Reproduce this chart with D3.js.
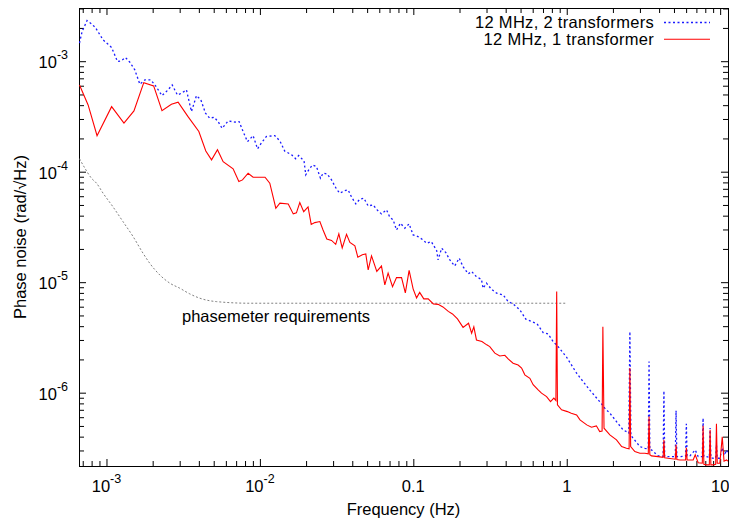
<!DOCTYPE html>
<html><head><meta charset="utf-8">
<script src="https://cdn.jsdelivr.net/npm/d3@7"></script>
<style>
body{margin:0;background:#fff}
text{font-family:"Liberation Sans",Arial,Helvetica,sans-serif;fill:#000}
</style>
</head><body>
<svg id="chart" width="729" height="521"></svg>
<script>
// ---- data ----
const seriesNames = ["12 MHz, 2 transformers", "12 MHz, 1 transformer"];
const requirementLabel = "phasemeter requirements";
const xTitle = "Frequency (Hz)";
const yTitle = "Phase noise (rad/\u221AHz)";
const xTickValues = [1e-3, 1e-2, 0.1, 1, 10];
const xTickLabels = [["10", "-3"], ["10", "-2"], ["0.1", ""], ["1", ""], ["10", ""]];
const yTickValues = [1e-3, 1e-4, 1e-5, 1e-6];
const yTickLabels = [["10", "-3"], ["10", "-4"], ["10", "-5"], ["10", "-6"]];

// [frequency Hz, phase noise rad/sqrt(Hz)]
const twoTransformers = [
[6.67e-4,1.46e-3],[6.93e-4,1.85e-3],[7.47e-4,2.33e-3],[7.98e-4,2.18e-3],[8.48e-4,2.01e-3],[9.50e-4,1.56e-3],[1.02e-3,1.43e-3],[1.08e-3,1.33e-3],[1.18e-3,9.92e-4],[1.25e-3,1.01e-3],[1.33e-3,1.08e-3],[1.42e-3,9.79e-4],[1.53e-3,8.34e-4],[1.65e-3,6.19e-4],[1.78e-3,6.78e-4],[1.94e-3,6.78e-4],[2.07e-3,6.10e-4],[2.30e-3,4.88e-4],[2.52e-3,5.50e-4],[2.68e-3,6.10e-4],[2.90e-3,4.95e-4],[3.08e-3,5.13e-4],[3.32e-3,5.50e-4],[3.58e-3,3.50e-4],[3.86e-3,4.88e-4],[4.12e-3,4.47e-4],[4.42e-3,3.38e-4],[4.71e-3,3.05e-4],[5.03e-3,3.11e-4],[5.34e-3,2.84e-4],[5.67e-3,2.47e-4],[6.21e-3,2.88e-4],[6.86e-3,2.81e-4],[7.32e-3,2.84e-4],[7.77e-3,2.31e-4],[8.30e-3,1.87e-4],[9.03e-3,2.12e-4],[9.65e-3,1.61e-4],[1.02e-2,1.81e-4],[1.10e-2,2.08e-4],[1.25e-2,2.12e-4],[1.35e-2,1.90e-4],[1.45e-2,1.54e-4],[1.61e-2,1.42e-4],[1.71e-2,1.31e-4],[1.79e-2,1.40e-4],[1.94e-2,1.25e-4],[1.99e-2,9.36e-5],[2.09e-2,1.05e-4],[2.20e-2,1.15e-4],[2.34e-2,1.11e-4],[2.48e-2,8.73e-5],[2.58e-2,9.69e-5],[2.74e-2,9.55e-5],[2.93e-2,8.43e-5],[3.16e-2,6.94e-5],[3.32e-2,6.39e-5],[3.58e-2,6.74e-5],[3.76e-2,6.84e-5],[3.96e-2,5.88e-5],[4.22e-2,5.11e-5],[4.48e-2,5.64e-5],[4.76e-2,5.75e-5],[5.08e-2,4.90e-5],[5.47e-2,5.01e-5],[5.81e-2,4.51e-5],[6.20e-2,4.15e-5],[6.69e-2,4.51e-5],[7.03e-2,3.87e-5],[7.39e-2,3.66e-5],[7.77e-2,2.97e-5],[8.25e-2,3.42e-5],[8.80e-2,3.08e-5],[9.39e-2,3.37e-5],[9.97e-2,2.68e-5],[0.107,2.59e-5],[0.116,2.41e-5],[0.122,2.25e-5],[0.131,2.33e-5],[0.142,1.93e-5],[0.145,1.59e-5],[0.153,2.03e-5],[0.163,1.85e-5],[0.173,1.59e-5],[0.186,1.40e-5],[0.199,1.65e-5],[0.211,1.38e-5],[0.228,1.19e-5],[0.240,1.25e-5],[0.258,1.12e-5],[0.278,1.06e-5],[0.285,8.82e-6],[0.300,9.79e-6],[0.323,8.64e-6],[0.349,7.95e-6],[0.385,7.67e-6],[0.415,6.67e-6],[0.447,6.36e-6],[0.495,5.62e-6],[0.541,4.63e-6],[0.590,4.40e-6],[0.641,4.19e-6],[0.702,3.50e-6],[0.757,3.40e-6],[0.815,2.90e-6],[0.879,2.61e-6],[0.997,2.10e-6],[1.16,1.50e-6],[1.41,1.06e-6],[1.64,8.31e-7],[1.77,7.24e-7],[1.91,6.52e-7],[2.11,5.48e-7],[2.33,4.61e-7],[2.45,4.44e-7],[2.54,4.30e-7],[2.58,3.57e-6],[2.62,4.10e-7],[2.71,3.87e-7],[3.00,3.25e-7],[3.23,3.14e-7],[3.40,3.10e-7],[3.44,1.91e-6],[3.48,3.05e-7],[3.57,3.03e-7],[3.94,2.68e-7],[4.25,2.66e-7],[4.30,1.04e-6],[4.35,2.65e-7],[4.47,2.64e-7],[5.10,2.64e-7],[5.16,6.88e-7],[5.22,2.64e-7],[5.46,2.64e-7],[5.95,2.66e-7],[6.02,5.22e-7],[6.09,2.68e-7],[6.35,2.68e-7],[6.88,3.03e-7],[7.19,2.64e-7],[7.65,2.64e-7],[7.74,5.88e-7],[7.83,2.64e-7],[8.07,2.64e-7],[8.50,2.60e-7],[8.60,4.80e-7],[8.70,2.58e-7],[9.00,2.55e-7],[9.35,2.55e-7],[9.46,3.37e-7],[9.57,2.55e-7],[9.95,2.55e-7],[10.32,3.17e-7],[10.6,2.70e-7],[11.0,3.03e-7],[11.25,2.80e-7]
];
const oneTransformer = [
[6.67e-4,6.10e-4],[7.59e-4,4.02e-4],[8.68e-4,2.12e-4],[1.08e-3,3.88e-4],[1.30e-3,2.75e-4],[1.51e-3,3.55e-4],[1.75e-3,6.40e-4],[2.03e-3,5.98e-4],[2.30e-3,3.57e-4],[2.65e-3,4.08e-4],[2.93e-3,4.26e-4],[3.40e-3,3.15e-4],[4.00e-3,2.31e-4],[4.44e-3,1.54e-4],[4.84e-3,1.28e-4],[5.29e-3,1.58e-4],[5.76e-3,1.23e-4],[6.69e-3,1.06e-4],[7.29e-3,8.14e-5],[7.70e-3,8.43e-5],[8.38e-3,9.69e-5],[9.03e-3,8.91e-5],[1.08e-2,8.91e-5],[1.16e-2,7.87e-5],[1.27e-2,4.67e-5],[1.35e-2,5.19e-5],[1.53e-2,5.11e-5],[1.65e-2,4.15e-5],[1.73e-2,4.24e-5],[1.82e-2,5.25e-5],[1.93e-2,4.35e-5],[2.06e-2,4.80e-5],[2.16e-2,3.33e-5],[2.28e-2,3.46e-5],[2.46e-2,3.54e-5],[2.58e-2,2.97e-5],[2.73e-2,2.46e-5],[2.93e-2,2.39e-5],[3.12e-2,2.20e-5],[3.27e-2,2.74e-5],[3.44e-2,2.04e-5],[3.67e-2,2.71e-5],[3.86e-2,2.29e-5],[4.16e-2,2.13e-5],[4.35e-2,1.68e-5],[4.65e-2,1.77e-5],[4.90e-2,1.80e-5],[5.08e-2,1.29e-5],[5.34e-2,1.73e-5],[5.78e-2,1.25e-5],[6.20e-2,1.40e-5],[6.52e-2,9.45e-6],[6.85e-2,1.21e-5],[7.32e-2,9.12e-6],[7.77e-2,1.10e-5],[8.38e-2,1.10e-5],[8.87e-2,8.00e-6],[9.39e-2,1.28e-5],[9.97e-2,8.70e-6],[0.105,7.21e-6],[0.110,8.09e-6],[0.117,7.06e-6],[0.125,7.06e-6],[0.135,6.36e-6],[0.145,6.30e-6],[0.156,5.97e-6],[0.169,5.44e-6],[0.180,5.16e-6],[0.194,4.65e-6],[0.211,3.90e-6],[0.229,4.25e-6],[0.240,3.45e-6],[0.248,3.94e-6],[0.258,3.00e-6],[0.280,2.90e-6],[0.301,2.71e-6],[0.315,2.61e-6],[0.340,2.28e-6],[0.366,2.15e-6],[0.395,2.18e-6],[0.415,2.02e-6],[0.447,1.85e-6],[0.482,1.78e-6],[0.508,1.67e-6],[0.533,1.45e-6],[0.575,1.35e-6],[0.604,1.18e-6],[0.651,1.06e-6],[0.685,9.90e-7],[0.739,9.22e-7],[0.784,8.31e-7],[0.824,8.92e-7],[0.850,8.50e-7],[0.860,8.22e-6],[0.870,7.76e-7],[0.925,6.99e-7],[1.01,6.74e-7],[1.07,6.52e-7],[1.16,6.30e-7],[1.22,5.67e-7],[1.35,5.11e-7],[1.45,4.87e-7],[1.56,5.01e-7],[1.64,4.44e-7],[1.70,4.50e-7],[1.72,3.96e-6],[1.75,4.77e-7],[1.91,4.15e-7],[2.11,3.74e-7],[2.28,3.25e-7],[2.45,3.14e-7],[2.55,3.10e-7],[2.58,1.67e-6],[2.61,3.25e-7],[2.78,2.93e-7],[3.00,2.83e-7],[3.23,2.83e-7],[3.40,2.80e-7],[3.44,6.08e-7],[3.48,2.75e-7],[3.57,2.68e-7],[3.94,2.64e-7],[4.25,2.60e-7],[4.30,3.74e-7],[4.35,2.58e-7],[4.58,2.55e-7],[5.10,2.50e-7],[5.16,3.37e-7],[5.22,2.48e-7],[5.46,2.46e-7],[5.95,2.46e-7],[6.02,3.17e-7],[6.09,2.46e-7],[6.67,2.46e-7],[6.88,2.74e-7],[7.19,2.32e-7],[7.65,2.30e-7],[7.74,5.01e-7],[7.83,2.25e-7],[8.15,2.22e-7],[8.50,2.22e-7],[8.60,4.61e-7],[8.70,2.22e-7],[9.00,2.22e-7],[9.35,2.25e-7],[9.46,5.22e-7],[9.57,2.30e-7],[9.95,2.30e-7],[10.32,3.98e-7],[10.6,2.40e-7],[11.0,2.46e-7],[11.25,2.40e-7]
];
const requirement = [
[6.67e-4,1.31e-4],[7.22e-4,1.08e-4],[7.98e-4,8.73e-5],[8.61e-4,7.87e-5],[9.50e-4,6.39e-5],[1.10e-3,4.83e-5],[1.28e-3,3.54e-5],[1.49e-3,2.59e-5],[1.73e-3,1.83e-5],[1.91e-3,1.49e-5],[2.23e-3,1.16e-5],[2.59e-3,9.79e-6],[3.00e-3,8.83e-6],[3.49e-3,7.84e-6],[4.06e-3,7.16e-6],[5.21e-3,6.67e-6],[8.60e-3,6.45e-6],[1.0,6.45e-6]
];

// ---- layout ----
const plot = {left: 79, right: 728, top: 8, bottom: 466};
const svg = d3.select("#chart");
svg.append("rect").attr("width", 729).attr("height", 521).attr("fill", "#fff");

const x = d3.scaleLog().domain([6.62e-4, 11.25]).range([plot.left, plot.right]);
const y = d3.scaleLog().domain([2.17e-7, 3.03e-3]).range([plot.bottom, plot.top]);

function minorTicks(scale) {
  const [a, b] = scale.domain();
  const out = [];
  for (let e = Math.floor(Math.log10(a)); e <= Math.ceil(Math.log10(b)); e++) {
    for (let k = 2; k <= 9; k++) {
      const v = k * Math.pow(10, e);
      if (v >= a && v <= b) out.push(v);
    }
  }
  return out;
}
const xMinor = minorTicks(x), yMinor = minorTicks(y);

function tickAxis(axisFn, scale, values, size, transform) {
  const g = svg.append("g").attr("transform", transform)
    .call(axisFn(scale).tickValues(values).tickSize(-size).tickFormat(""));
  g.select(".domain").remove();
  g.selectAll("line").attr("stroke", "#000").attr("stroke-width", 1);
}
// inward ticks on all four sides (mirrored)
tickAxis(d3.axisBottom, x, xTickValues, 7, `translate(0,${plot.bottom})`);
tickAxis(d3.axisBottom, x, xMinor, 5, `translate(0,${plot.bottom})`);
tickAxis(d3.axisTop, x, xTickValues, 7, `translate(0,${plot.top})`);
tickAxis(d3.axisTop, x, xMinor, 5, `translate(0,${plot.top})`);
tickAxis(d3.axisLeft, y, yTickValues, 7, `translate(${plot.left},0)`);
tickAxis(d3.axisLeft, y, yMinor, 5, `translate(${plot.left},0)`);
tickAxis(d3.axisRight, y, yTickValues, 7, `translate(${plot.right},0)`);
tickAxis(d3.axisRight, y, yMinor, 5, `translate(${plot.right},0)`);

svg.append("rect")
  .attr("x", plot.left + 0.5).attr("y", plot.top + 0.5)
  .attr("width", plot.right - plot.left).attr("height", plot.bottom - plot.top)
  .attr("fill", "none").attr("stroke", "#000").attr("stroke-width", 1);

// tick labels
const FS = 16.5, SUP = 12.5;
xTickValues.forEach((v, i) => {
  const t = svg.append("text").attr("x", x(v)).attr("y", 491.5)
    .attr("text-anchor", "middle").attr("font-size", FS);
  t.append("tspan").text(xTickLabels[i][0]);
  if (xTickLabels[i][1]) t.append("tspan").attr("dy", -9).attr("font-size", SUP).text(xTickLabels[i][1]);
});
yTickValues.forEach((v, i) => {
  const t = svg.append("text").attr("x", 68).attr("y", y(v) + 7)
    .attr("text-anchor", "end").attr("font-size", FS);
  t.append("tspan").text(yTickLabels[i][0]);
  if (yTickLabels[i][1]) t.append("tspan").attr("dy", -9).attr("font-size", SUP).text(yTickLabels[i][1]);
});

// axis titles
svg.append("text").attr("x", (plot.left + plot.right) / 2).attr("y", 515)
  .attr("text-anchor", "middle").attr("font-size", FS).text(xTitle);
svg.append("text").attr("transform", `translate(26,${(plot.top + plot.bottom) / 2}) rotate(-90)`)
  .attr("text-anchor", "middle").attr("font-size", FS).text(yTitle);

// clip
svg.append("clipPath").attr("id", "clip").append("rect")
  .attr("x", plot.left).attr("y", plot.top)
  .attr("width", plot.right - plot.left).attr("height", plot.bottom - plot.top);
const dataG = svg.append("g").attr("clip-path", "url(#clip)");

const line = d3.line().x(d => x(d[0])).y(d => y(d[1]));
const smooth = d3.line().x(d => x(d[0])).y(d => y(d[1])).curve(d3.curveMonotoneX);

dataG.append("path").datum(requirement).attr("d", smooth)
  .attr("fill", "none").attr("stroke", "#808080").attr("stroke-width", 1)
  .attr("stroke-dasharray", "2,2");
dataG.append("path").datum(twoTransformers).attr("d", line)
  .attr("fill", "none").attr("stroke", "#1a1aff").attr("stroke-width", 1.3)
  .attr("stroke-dasharray", "2,2.5");
dataG.append("path").datum(oneTransformer).attr("d", line)
  .attr("fill", "none").attr("stroke", "#ff0000").attr("stroke-width", 1.1);

// requirement label
svg.append("text").attr("x", 182).attr("y", 322).attr("font-size", FS).text(requirementLabel);

// legend
const legendColors = ["#1a1aff", "#ff0000"];
const legendDash = ["2,2.5", null];
const legendWidth = [1.3, 1.1];
seriesNames.forEach((name, i) => {
  const by = 28.3 + i * 16.8;
  svg.append("text").attr("x", 654).attr("y", by).attr("text-anchor", "end")
    .attr("font-size", FS).attr("letter-spacing", 0.3).text(name);
  svg.append("line").attr("x1", 664).attr("x2", 710).attr("y1", by - 5.8).attr("y2", by - 5.8)
    .attr("stroke", legendColors[i]).attr("stroke-width", legendWidth[i])
    .attr("stroke-dasharray", legendDash[i]);
});
</script>
</body></html>
